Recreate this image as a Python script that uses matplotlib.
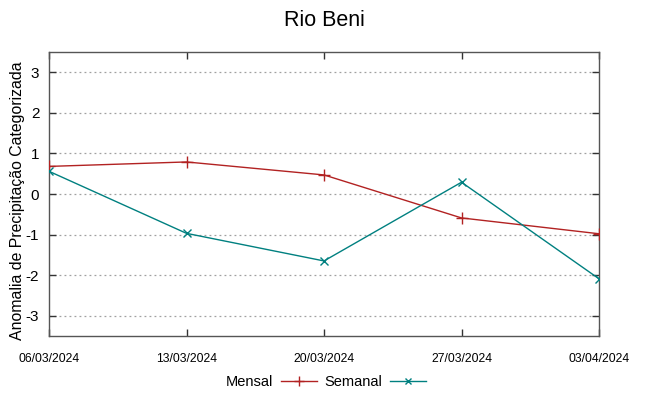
import numpy as np
import matplotlib
matplotlib.use("Agg")
import matplotlib.pyplot as plt
from matplotlib.lines import Line2D

plt.rcParams['font.family'] = ['Liberation Sans', 'DejaVu Sans']

dates = ["06/03/2024", "13/03/2024", "20/03/2024", "27/03/2024", "03/04/2024"]
mensal = [0.68, 0.79, 0.47, -0.59, -0.98]
semanal = [0.56, -0.97, -1.65, 0.29, -2.09]
yticks = [-3, -2, -1, 0, 1, 2, 3]

red = '#b22222'
teal = '#008080'

fig = plt.figure(figsize=(6.48, 3.96), dpi=100)
ax = fig.add_axes([49 / 648, 1 - 336 / 396, 550 / 648, 284 / 396])

x = np.arange(len(dates))
ax.plot(x, mensal, color=red, lw=1.0, marker='+', ms=8, mew=1.0, zorder=3)
ax.plot(x, semanal, color=teal, lw=1.0, marker='x', ms=6, mew=1.0, zorder=3)

ax.set_xlim(0, len(dates) - 1)
ax.set_ylim(-3.5, 3.5)
ax.set_xticks(x)
ax.set_xticklabels(dates, fontsize=8.7)
ax.set_yticks(yticks)
ax.set_yticklabels([str(v) for v in yticks], fontsize=11)
ax.yaxis.grid(True, ls=(0, (1.5, 2.5)), color='#a0a0a0', lw=0.9)
ax.tick_params(direction='in', top=True, right=True, length=5, width=1, color='#333333')
ax.tick_params(axis='x', pad=12)
ax.tick_params(axis='y', pad=7)
for s in ax.spines.values():
    s.set_color('#555555')
    s.set_linewidth(1.0)

ax.set_ylabel('Anomalia de Precipitação Categorizada', fontsize=11.4)
ax.yaxis.set_label_coords(-0.044, 0.475)
fig.suptitle('Rio Beni', fontsize=15.5, y=0.975)

handles = [Line2D([], [], color=red, lw=1, marker='+', ms=7),
           Line2D([], [], color=teal, lw=1, marker='x', ms=5)]
fig.legend(handles, ['Mensal', 'Semanal'], loc='center', bbox_to_anchor=(0.503, 0.035),
           ncol=2, frameon=False, markerfirst=False, fontsize=10.5,
           handlelength=2.5, columnspacing=0.5, handletextpad=0.5)

fig.savefig('out.png', dpi=100)
